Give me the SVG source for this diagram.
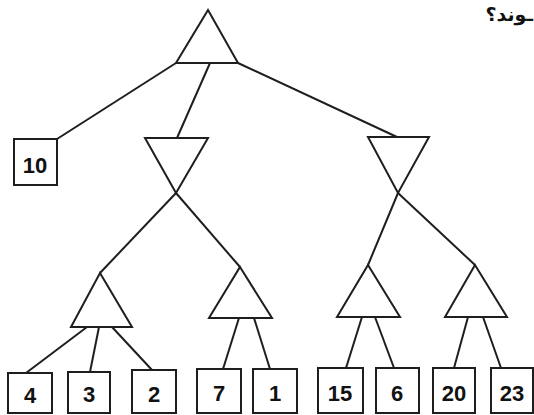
<svg xmlns="http://www.w3.org/2000/svg" width="534" height="415" viewBox="0 0 534 415">
<style>
.tri{fill:none;stroke:#1e1e1e;stroke-width:2;stroke-linejoin:miter}
.box{fill:#fff;stroke:#1e1e1e;stroke-width:2}
.edge{fill:none;stroke:#1e1e1e;stroke-width:2}
.lbl{font-family:"Liberation Sans",Arial,sans-serif;font-weight:bold;font-size:22px;fill:#111;text-anchor:middle}
.ar{font-family:"DejaVu Sans",sans-serif;font-weight:bold;font-size:19px;fill:#111;text-anchor:end}
</style>
<rect width="534" height="415" fill="#fff"/>
<text class="ar" x="533" y="21">ـوند؟</text>
<g id="connectors">
<line class="edge" x1="176" y1="63" x2="57" y2="139"/>
<line class="edge" x1="210" y1="63" x2="177" y2="138"/>
<line class="edge" x1="238" y1="63" x2="397" y2="137"/>
<line class="edge" x1="176" y1="193" x2="100" y2="273"/>
<line class="edge" x1="176" y1="193" x2="240" y2="267"/>
<line class="edge" x1="398" y1="193" x2="368" y2="265"/>
<line class="edge" x1="398" y1="193" x2="475" y2="265"/>
<line class="edge" x1="87" y1="327" x2="26" y2="373"/>
<line class="edge" x1="99" y1="327" x2="90" y2="372"/>
<line class="edge" x1="112" y1="327" x2="152" y2="370"/>
<line class="edge" x1="239" y1="318" x2="223" y2="369"/>
<line class="edge" x1="254" y1="318" x2="270" y2="369"/>
<line class="edge" x1="362" y1="317" x2="346" y2="368"/>
<line class="edge" x1="375" y1="317" x2="394" y2="368"/>
<line class="edge" x1="468" y1="317" x2="454" y2="368"/>
<line class="edge" x1="483" y1="317" x2="501" y2="368"/>
</g>
<g id="root"><polygon class="tri" points="208,10 238,63 176,63"/></g>
<g id="maxL"><polygon class="tri" points="145,138 208,138 176,193"/></g>
<g id="maxR"><polygon class="tri" points="368,137 429,137 398,193"/></g>
<g id="minA"><polygon class="tri" points="100,273 132,327 71,327"/></g>
<g id="minB"><polygon class="tri" points="240,267 272,318 209,318"/></g>
<g id="minC"><polygon class="tri" points="368,265 400,317 337,317"/></g>
<g id="minD"><polygon class="tri" points="475,265 507,317 445,317"/></g>
<g id="leaf10"><rect class="box" x="14" y="139" width="43" height="46"/><text class="lbl" x="35" y="173">10</text></g>
<g id="leaf4"><rect class="box" x="8" y="373" width="44" height="40"/><text class="lbl" x="30" y="403">4</text></g>
<g id="leaf3"><rect class="box" x="68" y="372" width="42" height="41"/><text class="lbl" x="89" y="402">3</text></g>
<g id="leaf2"><rect class="box" x="132" y="370" width="44" height="43"/><text class="lbl" x="154" y="402">2</text></g>
<g id="leaf7"><rect class="box" x="197" y="369" width="44" height="44"/><text class="lbl" x="219" y="401">7</text></g>
<g id="leaf1"><rect class="box" x="253" y="369" width="44" height="44"/><text class="lbl" x="275" y="401">1</text></g>
<g id="leaf15"><rect class="box" x="318" y="368" width="45" height="45"/><text class="lbl" x="340" y="401">15</text></g>
<g id="leaf6"><rect class="box" x="376" y="368" width="43" height="45"/><text class="lbl" x="397" y="401">6</text></g>
<g id="leaf20"><rect class="box" x="433" y="368" width="42" height="45"/><text class="lbl" x="454" y="401">20</text></g>
<g id="leaf23"><rect class="box" x="491" y="368" width="42" height="45"/><text class="lbl" x="512" y="401">23</text></g>
</svg>
